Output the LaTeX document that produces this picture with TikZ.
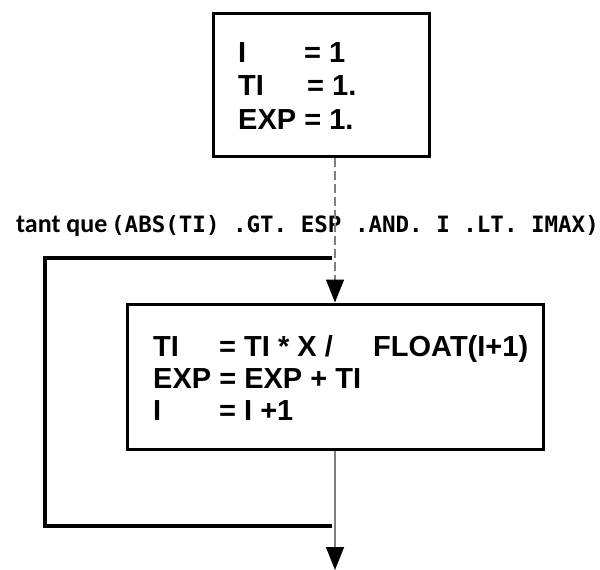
\documentclass[tikz,border=0pt]{standalone}
\usepackage{fontspec}
\usetikzlibrary{arrows.meta}
\newfontfamily\boxfont{Liberation Sans}
\newfontfamily\labelfont{Carlito}
\newfontfamily\codefont{DejaVu Sans Mono}
\definecolor{linegray}{HTML}{7F7F7F}

\begin{document}
\begin{tikzpicture}[x=1pt,y=-1pt,
  block/.style={draw=black, line width=3pt, rectangle, inner sep=0pt},
  stmt/.style={anchor=base west, inner sep=0pt,
    font=\boxfont\bfseries\fontsize{29}{33}\selectfont},
  flow/.style={draw=linegray, line width=1.5pt,
    -{Triangle[length=23pt,width=18pt,color=black]}},
  loopline/.style={line width=4pt, line join=miter}]

  \fill[white] (0,0) rectangle (600,570);
  \useasboundingbox (0,0) rectangle (600,570);

  % initialisation block
  \node[block, minimum width=216pt, minimum height=143pt] (init) at (321,84.5) {};
  \node[stmt] (i1) at (238,62)   {\makebox[66pt][l]{I}= 1};
  \node[stmt] (i2) at (238,95.5) {\makebox[69pt][l]{TI}= 1.};
  \node[stmt] (i3) at (238,129)  {EXP = 1.};

  % loop condition
  \node[anchor=base west, inner sep=0pt,
        font=\labelfont\bfseries\fontsize{26}{30}\selectfont] (cond) at (16,232) {tant que};
  \node[anchor=base west, inner sep=0pt,
        font=\codefont\bfseries\fontsize{22.5}{26}\selectfont] (condexpr) at (111,232)
        {(ABS(TI) .GT. ESP .AND. I .LT. IMAX)};

  % loop body
  \node[block, minimum width=416pt, minimum height=145pt] (body) at (335,376.5) {};
  \node[stmt] (b1) at (153,356) {\makebox[66pt][l]{TI}\makebox[154pt][l]{= TI * X /}FLOAT(I+1)};
  \node[stmt] (b2) at (153,388) {EXP = EXP + TI};
  \node[stmt] (b3) at (153,420) {\makebox[66pt][l]{I}= I +1};

  % loop bracket
  \coordinate (looptop)  at (332,258);
  \coordinate (loopleft) at (45,258);
  \coordinate (loopbot)  at (332,526);
  \draw[loopline] (looptop) -- (loopleft) |- (loopbot);

  % flow connectors
  \draw[flow, dash pattern=on 9pt off 4pt] (init.south -| body.north) -- (body.north);
  \coordinate (exit) at (335,570);
  \draw[flow] (body.south) -- (exit);
\end{tikzpicture}
\end{document}
